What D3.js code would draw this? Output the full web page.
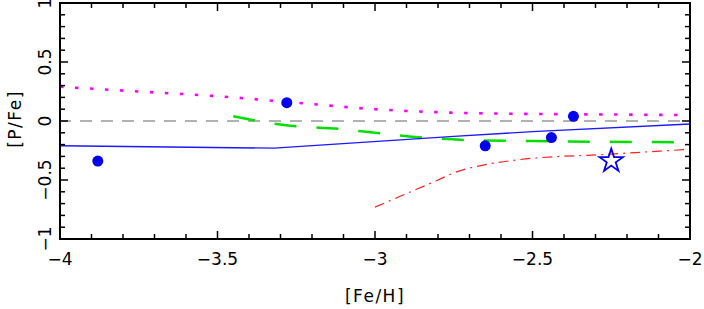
<!DOCTYPE html>
<html>
<head>
<meta charset="utf-8">
<script src="https://cdn.jsdelivr.net/npm/d3@7"></script>
<style>
  body { margin: 0; background: #fff; }
  svg { display: block; }
  text { font-family: "DejaVu Sans", sans-serif; fill: #000; }
</style>
</head>
<body>
<svg id="chart" width="704" height="309"></svg>
<script>
// observed stars
var starFeH = [-3.88, -3.28, -2.65, -2.44, -2.37];
var starPFe = [-0.34, 0.155, -0.21, -0.14, 0.04];
// upper limit / special star (open star marker)
var openFeH = [-2.25];
var openPFe = [-0.33];

// model curves
var solidFeH = [-4, -3.32, -2.75, -2.5, -2];
var solidPFe = [-0.21, -0.23, -0.13, -0.09, -0.025];

var dottedFeH = [-4, -3.75, -3.5, -3.25, -3, -2.75, -2.5, -2.25, -2];
var dottedPFe = [0.29, 0.25, 0.21, 0.155, 0.1, 0.07, 0.06, 0.055, 0.05];

var dashedFeH = [-3.45, -3.3, -3.1, -3, -2.85, -2.72, -2.5, -2.05];
var dashedPFe = [0.04, -0.03, -0.07, -0.1, -0.14, -0.16, -0.17, -0.18];

var dashDotFeH = [-3, -2.9, -2.8, -2.75, -2.65, -2.55, -2.25, -2];
var dashDotPFe = [-0.73, -0.615, -0.5, -0.44, -0.37, -0.33, -0.28, -0.24];

var xTicks = [-4, -3.5, -3, -2.5, -2];
var yTicks = [-1, -0.5, 0, 0.5, 1];

var margin = { left: 60, right: 14, top: 3, bottom: 70 };
var width = 704, height = 309;
var svg = d3.select("#chart");

var x = d3.scaleLinear().domain([-4, -2]).range([margin.left, width - margin.right]);
var y = d3.scaleLinear().domain([-1, 1]).range([height - margin.bottom, margin.top]);

var fmt = function (v) { return String(v).replace("-", "\u2212"); };

function zip(xs, ys) {
  return xs.map(function (v, i) { return [v, ys[i]]; });
}

var line = d3.line()
  .x(function (d) { return x(d[0]); })
  .y(function (d) { return y(d[1]); });
var curve = d3.line()
  .curve(d3.curveMonotoneX)
  .x(function (d) { return x(d[0]); })
  .y(function (d) { return y(d[1]); });

var plot = svg.append("g");

// zero reference line
plot.append("path")
  .attr("d", line([[-4, 0], [-2, 0]]))
  .attr("fill", "none")
  .attr("stroke", "#999")
  .attr("stroke-width", 1.5)
  .attr("stroke-dasharray", "12,9")
  .attr("stroke-dashoffset", -20);

plot.append("path")
  .attr("d", curve(zip(dottedFeH, dottedPFe)))
  .attr("fill", "none")
  .attr("stroke", "#ff00ff")
  .attr("stroke-width", 2.6)
  .attr("stroke-dasharray", "3.5,11.5");

plot.append("path")
  .attr("d", curve(zip(dashedFeH, dashedPFe)))
  .attr("fill", "none")
  .attr("stroke", "#00e000")
  .attr("stroke-width", 2.5)
  .attr("stroke-dasharray", "22,20");

plot.append("path")
  .attr("d", line(zip(solidFeH, solidPFe)))
  .attr("fill", "none")
  .attr("stroke", "#1a1aff")
  .attr("stroke-width", 1.4);

plot.append("path")
  .attr("d", curve(zip(dashDotFeH, dashDotPFe)))
  .attr("fill", "none")
  .attr("stroke", "#ff2020")
  .attr("stroke-width", 1.2)
  .attr("stroke-dasharray", "10,5,2,5");

// observations
plot.selectAll(".obs")
  .data(zip(starFeH, starPFe))
  .enter()
  .append("circle")
  .attr("class", "obs")
  .attr("cx", function (d) { return x(d[0]); })
  .attr("cy", function (d) { return y(d[1]); })
  .attr("r", 5.5)
  .attr("fill", "#0000ee");

var starShape = d3.symbol().type(d3.symbolStar).size(170);
plot.selectAll(".open")
  .data(zip(openFeH, openPFe))
  .enter()
  .append("path")
  .attr("class", "open")
  .attr("d", starShape)
  .attr("transform", function (d) { return "translate(" + x(d[0]) + "," + (y(d[1]) + 1) + ")"; })
  .attr("fill", "none")
  .attr("stroke", "#0000ee")
  .attr("stroke-width", 1.8);

// frame with inward ticks on all sides
var axes = svg.append("g");
var x0 = x.range()[0], x1 = x.range()[1];
var y0 = y.range()[0], y1 = y.range()[1];

var minorX = d3.range(-4, -1.99, 0.1);
var minorY = d3.range(-1, 1.01, 0.1);
function isMajor(v) { return Math.abs(v * 2 - Math.round(v * 2)) < 1e-6; }

minorX.forEach(function (v) {
  var len = isMajor(v) ? 8 : 5;
  axes.append("line").attr("x1", x(v)).attr("x2", x(v)).attr("y1", y0).attr("y2", y0 - len);
  axes.append("line").attr("x1", x(v)).attr("x2", x(v)).attr("y1", y1).attr("y2", y1 + len);
});
minorY.forEach(function (v) {
  var len = isMajor(v) ? 8 : 5;
  axes.append("line").attr("y1", y(v)).attr("y2", y(v)).attr("x1", x0).attr("x2", x0 + len);
  axes.append("line").attr("y1", y(v)).attr("y2", y(v)).attr("x1", x1).attr("x2", x1 - len);
});
axes.selectAll("line").attr("stroke", "#000").attr("stroke-width", 1.5);

axes.append("rect")
  .attr("x", x0).attr("y", y1)
  .attr("width", x1 - x0).attr("height", y0 - y1)
  .attr("fill", "none")
  .attr("stroke", "#000")
  .attr("stroke-width", 2);

// tick labels
svg.selectAll(".xlab")
  .data(xTicks)
  .enter()
  .append("text")
  .attr("x", function (d) { return x(d); })
  .attr("y", 265)
  .attr("text-anchor", "middle")
  .attr("font-size", 17)
  .text(fmt);

svg.selectAll(".ylab")
  .data(yTicks)
  .enter()
  .append("text")
  .attr("transform", function (d) { return "translate(51," + y(d) + ") rotate(-90)"; })
  .attr("text-anchor", "middle")
  .attr("font-size", 17)
  .text(fmt);

svg.append("text")
  .attr("x", 375)
  .attr("y", 302)
  .attr("text-anchor", "middle")
  .attr("font-size", 17)
  .attr("letter-spacing", 1.5)
  .text("[Fe/H]");

svg.append("text")
  .attr("transform", "translate(21," + (y(0) - 2) + ") rotate(-90)")
  .attr("text-anchor", "middle")
  .attr("font-size", 17)
  .attr("letter-spacing", 1.5)
  .text("[P/Fe]");
</script>
</body>
</html>
